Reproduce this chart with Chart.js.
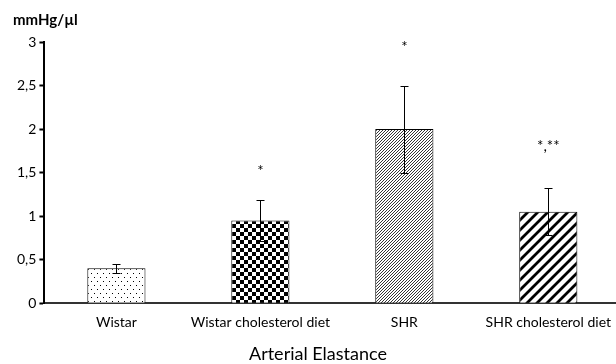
<!DOCTYPE html>
<html>
<head>
<meta charset="utf-8">
<script src="https://cdn.jsdelivr.net/npm/chart.js@4"></script>
<style>
  html, body { margin: 0; padding: 0; background: #fff; overflow: hidden; }
  #wrap { width: 622px; height: 364px; }
</style>
</head>
<body>
<div id="wrap"><canvas id="grafico"></canvas></div>
<script>
// dados do gráfico
var categorias = ['Wistar', 'Wistar cholesterol diet', 'SHR', 'SHR cholesterol diet'];
var valores = [0.40, 0.95, 2.00, 1.05];
var erros = [0.05, 0.23, 0.50, 0.27];
var marcas = ['', '*', '*', '*,**'];
var alturaMarcas = [null, 1.52, 2.94, 1.80];
var ticksY = [0, 0.5, 1, 1.5, 2, 2.5, 3];

var fonte = 'Lato, "Liberation Sans", sans-serif';

// padrões de preenchimento das barras
function padrao(w, h, desenha) {
    var c = document.createElement('canvas');
    c.width = w; c.height = h;
    var g = c.getContext('2d');
    g.fillStyle = '#fff';
    g.fillRect(0, 0, w, h);
    g.fillStyle = '#000';
    g.strokeStyle = '#000';
    desenha(g, w);
    return g.createPattern(c, 'repeat');
}

function diagonal(larg) {
    return function (g, s) {
        g.lineWidth = larg;
        g.beginPath();
        g.moveTo(0, s); g.lineTo(s, 0);
        g.moveTo(-s / 2, s / 2); g.lineTo(s / 2, -s / 2);
        g.moveTo(s / 2, s * 1.5); g.lineTo(s * 1.5, s / 2);
        g.stroke();
    };
}

var ctx = document.getElementById('grafico').getContext('2d');

var cores = [
    padrao(6, 8, function (g) { g.fillRect(1, 1, 1, 1); g.fillRect(4, 5, 1, 1); }),
    padrao(8, 8, function (g) { g.fillRect(0, 0, 4, 4); g.fillRect(4, 4, 4, 4); }),
    padrao(3, 3, diagonal(0.8)),
    padrao(10, 10, diagonal(2.8))
];

// barras de erro e asteriscos
var extras = {
    id: 'extras',
    afterDatasetsDraw: function (chart) {
        var g = chart.ctx;
        var y = chart.scales.y;
        var meta = chart.getDatasetMeta(0);
        g.save();
        g.strokeStyle = '#000';
        g.lineWidth = 1;
        meta.data.forEach(function (bar, i) {
            var x = Math.round(bar.x) + 0.5;
            var topo = Math.round(y.getPixelForValue(valores[i] + erros[i])) + 0.5;
            var base = Math.round(y.getPixelForValue(valores[i] - erros[i])) + 0.5;
            g.beginPath();
            g.moveTo(x, topo); g.lineTo(x, base);
            g.moveTo(x - 4, topo); g.lineTo(x + 4, topo);
            g.moveTo(x - 4, base); g.lineTo(x + 4, base);
            g.stroke();
            if (marcas[i]) {
                g.fillStyle = '#000';
                g.font = '15px ' + fonte;
                g.textAlign = 'center';
                g.textBaseline = 'middle';
                g.fillText(marcas[i], bar.x, y.getPixelForValue(alturaMarcas[i]));
            }
        });
        g.fillStyle = '#000';
        g.font = 'bold 15px ' + fonte;
        g.textAlign = 'left';
        g.textBaseline = 'middle';
        g.fillText('mmHg/\u00b5l', 13, 20);
        g.restore();
    }
};

new Chart(ctx, {
    type: 'bar',
    data: {
        labels: categorias,
        datasets: [{
            data: valores,
            backgroundColor: cores,
            borderColor: '#000',
            borderWidth: 1,
            barPercentage: 0.404,
            categoryPercentage: 1
        }]
    },
    options: {
        responsive: true,
        maintainAspectRatio: false,
        animation: false,
        layout: { padding: { top: 42, left: 14, right: 0, bottom: 1 } },
        plugins: {
            legend: { display: false },
            tooltip: { enabled: false },
            title: {
                display: true,
                text: 'Arterial Elastance',
                position: 'bottom',
                color: '#000',
                font: { family: fonte, size: 18, weight: 'normal', lineHeight: 1 },
                padding: { top: 3, bottom: 0 }
            }
        },
        scales: {
            x: {
                grid: { display: false, drawTicks: false },
                border: { color: '#333', width: 2 },
                ticks: { color: '#000', font: { family: fonte, size: 14 }, padding: 11, maxRotation: 0 }
            },
            y: {
                min: 0,
                max: 3,
                afterBuildTicks: function (axis) {
                    axis.ticks = ticksY.map(function (v) { return { value: v }; });
                },
                grid: { drawOnChartArea: false, color: '#000', tickLength: 5, tickWidth: 2 },
                border: { color: '#000', width: 2 },
                ticks: {
                    color: '#000',
                    font: { family: fonte, size: 14 },
                    padding: 3,
                    callback: function (v) { return String(v).replace('.', ','); }
                }
            }
        }
    },
    plugins: [extras]
});
</script>
</body>
</html>
